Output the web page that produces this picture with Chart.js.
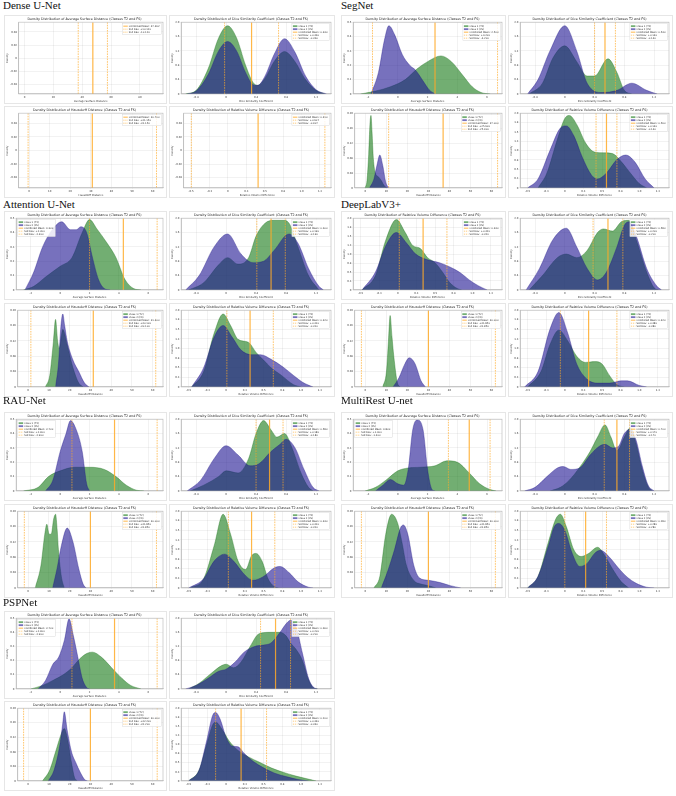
<!DOCTYPE html>
<html>
<head>
<meta charset="utf-8">
<script src="https://cdn.jsdelivr.net/npm/chart.js@4.4.1/dist/chart.umd.min.js"></script>
<style>
  body { margin: 0; background: #fff; width: 676px; height: 796px; position: relative; overflow: hidden; }
  .blk { position: absolute; font-family: "Liberation Serif", "DejaVu Serif", serif; font-size: 11px; line-height: 12px; color: #111; white-space: nowrap; }
  .fig { position: absolute; background: #fff; border: 1px solid #e6e6e6; box-sizing: border-box; }
  .fig canvas { display: block; }
</style>
</head>
<body>
<script>
// models, in reading order of the figure
const MODELS = ['Dense U-Net', 'SegNet', 'Attention U-Net', 'DeepLabV3+', 'RAU-Net', 'MultiRest U-net', 'PSPNet'];
const CLASS_LABELS = ['Class 1 (T2)', 'Class 2 (FS)'];
const METRIC_NAMES = { ASD: 'Average Surface Distance', DSC: 'Dice Similarity Coefficient', HD: 'Hausdorff Distance', RVD: 'Relative Volume Difference' };

// tick labels
const ASD_TICKS = [-2, 0, 2, 4, 6];
const DSC_TICKS = [-0.4, 0, 0.4, 0.8, 1.2];
const HD_TICKS = [0, 10, 20, 30, 40, 50, 60];
const RVD_TICKS = [-0.5, -0.25, 0, 0.25, 0.5, 0.75, 1, 1.25];
const DENSE_ASD_TICKS = [0, 20, 40, 60, 80];
const EMPTY_Y_TICKS = [-0.04, -0.02, 0, 0.02, 0.04];

// Dense U-Net (ASD, HD, RVD have no density curve, only the mean / std lines)
const DENSE_ASD_C1 = [], DENSE_ASD_C2 = [];
const DENSE_DSC_C1 = [[-0.54,0],[-0.4,0.1],[-0.24,0.7],[-0.1,1.56],[0.02,1.9],[0.14,1.56],[0.26,0.8],[0.36,0.32],[0.42,0.24],[0.52,0.44],[0.64,0.9],[0.78,1.18],[0.92,0.9],[1.06,0.4],[1.2,0.1],[1.32,0]];
const DENSE_DSC_C2 = [[-0.52,0],[-0.4,0.08],[-0.24,0.54],[-0.1,1.2],[0.02,1.46],[0.14,1.2],[0.26,0.6],[0.36,0.26],[0.42,0.24],[0.52,0.5],[0.64,1.1],[0.78,1.54],[0.92,1.16],[1.06,0.5],[1.2,0.12],[1.34,0]];
const DENSE_HD_C1 = [], DENSE_HD_C2 = [];
const DENSE_RVD_C1 = [], DENSE_RVD_C2 = [];
const DENSE_MEAN = [47.362, 0.34, 30.7, 0.41];
const DENSE_STD = [10.12, 0.36, 31.15, 0.907];

// SegNet
const SEG_ASD_C1 = [[-2.5,0],[-1.5,0.02],[-0.5,0.05],[0.5,0.1],[1.3,0.175],[2.0,0.225],[2.9,0.265],[3.6,0.225],[4.4,0.125],[5.0,0.05],[5.6,0.01],[6.2,0]];
const SEG_ASD_C2 = [[-1.8,0],[-1.3,0.15],[-0.9,0.375],[-0.6,0.475],[-0.2,0.41],[0.3,0.275],[0.8,0.2],[1.2,0.165],[1.7,0.09],[2.1,0.03],[2.5,0]];
const SEG_DSC_C1 = [[-0.48,0],[-0.3,0.3],[-0.16,1.0],[0,1.34],[0.16,0.9],[0.3,0.5],[0.4,0.5],[0.58,0.98],[0.7,0.6],[0.8,0.1],[0.9,0]];
const SEG_DSC_C2 = [[-0.5,0],[-0.36,0.4],[-0.2,1.2],[0,1.9],[0.16,1.2],[0.3,0.3],[0.5,0.04],[0.7,0.1],[0.9,0.3],[1.1,0.1],[1.24,0]];
const SEG_HD_C1 = [[-0.1,0],[0.8,0.02],[1.6,0.09],[2.2,0.17],[2.7,0.194],[3.2,0.15],[3.8,0.08],[4.8,0.04],[6.2,0.03],[7.6,0.02],[9,0.006],[10.4,0]];
const SEG_HD_C2 = [[2,0],[4.1,0.024],[5.5,0.06],[6.9,0.088],[8.3,0.06],[9.7,0.016],[11.1,0]];
const SEG_RVD_C1 = [[-0.36,0],[-0.24,0.4],[-0.1,1.3],[0,1.86],[0.06,1.94],[0.16,1.7],[0.28,1.2],[0.4,0.96],[0.52,0.94],[0.64,0.92],[0.76,0.7],[0.88,0.4],[1.0,0.12],[1.1,0]];
const SEG_RVD_C2 = [[-0.5,0],[-0.36,0.24],[-0.2,1.0],[-0.06,1.6],[0.02,1.66],[0.12,1.4],[0.24,0.8],[0.36,0.34],[0.44,0.24],[0.56,0.4],[0.7,0.76],[0.82,0.88],[0.94,0.7],[1.08,0.24],[1.2,0]];
const SEG_MEAN = [2.5, 0.54, 37.0, 0.56];
const SEG_STD = [4.2, 0.14, 25.9, 0.14];

// Attention U-Net
const ATT_ASD_C1 = [[-2.5,0],[-1.8,0.025],[-1.0,0.09],[0,0.165],[0.8,0.225],[1.5,0.4],[2.0,0.49],[2.5,0.425],[3.2,0.325],[3.8,0.225],[4.4,0.075],[5.0,0.01],[5.5,0]];
const ATT_ASD_C2 = [[-2.4,0],[-1.8,0.125],[-1.2,0.3],[-0.5,0.425],[0.1,0.475],[0.7,0.42],[1.1,0.42],[1.4,0.44],[1.8,0.4],[2.2,0.225],[2.6,0.075],[3.0,0.01],[3.4,0]];
const ATT_DSC_C1 = [[-0.5,0],[-0.3,0.2],[-0.1,0.7],[0.02,0.9],[0.16,0.72],[0.3,0.9],[0.4,1.5],[0.52,1.86],[0.64,1.94],[0.76,1.94],[0.84,1.86],[0.96,1.2],[1.1,0.4],[1.24,0]];
const ATT_DSC_C2 = [[-0.54,0],[-0.36,0.4],[-0.16,1.2],[0.02,1.56],[0.2,1.0],[0.36,0.76],[0.5,0.8],[0.64,1.1],[0.84,1.56],[0.96,1.3],[1.1,0.6],[1.24,0.1],[1.3,0]];
const ATT_HD_C1 = [[8.3,0],[10.4,0.03],[12.2,0.12],[13.2,0.176],[14.2,0.12],[14.95,0.1],[16.7,0.15],[18.8,0.11],[21.6,0.05],[24.4,0.01],[26.5,0]];
const ATT_HD_C2 = [[13.2,0],[14.6,0.06],[15.8,0.16],[16.7,0.19],[17.6,0.16],[18.8,0.12],[21.6,0.07],[24.4,0.04],[27.2,0.01],[29.3,0]];
const ATT_RVD_C1 = [[-0.46,0],[-0.3,0.4],[-0.16,1.4],[-0.04,1.9],[0.06,1.6],[0.16,1.24],[0.3,1.16],[0.4,0.9],[0.5,0.7],[0.6,0.5],[0.74,0.3],[0.9,0.06],[1.0,0]];
const ATT_RVD_C2 = [[-0.46,0],[-0.3,0.5],[-0.16,1.3],[-0.04,1.6],[0.08,1.3],[0.2,0.96],[0.34,0.84],[0.46,0.84],[0.6,0.72],[0.76,0.52],[0.9,0.3],[1.04,0.1],[1.16,0]];
const ATT_MEAN = [4.3, 0.6, 31.4, 0.32];
const ATT_STD = [2.3, 0.19, 30.1, 0.31];

// DeepLabV3+ (first panel is a relative volume difference plot too)
const DLV_RVDA_C1 = [[-0.48,0],[-0.3,0.4],[-0.16,1.4],[-0.02,1.96],[0.1,1.6],[0.2,1.24],[0.3,1.16],[0.4,0.9],[0.5,0.76],[0.6,0.5],[0.7,0.2],[0.8,0.04],[0.86,0]];
const DLV_RVDA_C2 = [[-0.48,0],[-0.3,0.5],[-0.16,1.24],[-0.02,1.6],[0.12,1.3],[0.24,1.0],[0.4,0.84],[0.56,0.76],[0.7,0.64],[0.84,0.48],[0.96,0.28],[1.08,0.12],[1.2,0]];
const DLV_DSC_C1 = [[-0.48,0],[-0.3,0.4],[-0.1,0.9],[0.02,1.0],[0.16,0.9],[0.3,1.1],[0.44,1.6],[0.52,1.7],[0.64,1.64],[0.76,1.9],[0.86,1.94],[0.96,1.4],[1.1,0.5],[1.2,0.06],[1.26,0]];
const DLV_DSC_C2 = [[-0.52,0],[-0.34,0.6],[-0.16,1.4],[0.02,1.72],[0.16,1.2],[0.3,0.6],[0.44,0.28],[0.56,0.5],[0.7,1.2],[0.8,1.8],[0.86,1.9],[0.96,1.5],[1.1,0.6],[1.24,0.1],[1.3,0]];
const DLV_HD_C1 = [[8.3,0],[10.05,0.04],[11.0,0.12],[11.8,0.186],[12.7,0.13],[13.55,0.08],[15.3,0.01],[16.7,0]];
const DLV_HD_C2 = [[13.2,0],[16,0.024],[18.8,0.06],[20.9,0.076],[23.7,0.06],[26.5,0.016],[28.6,0]];
const DLV_RVD_C1 = [[-0.5,0],[-0.32,0.4],[-0.2,1.1],[-0.08,1.48],[0.04,1.2],[0.16,0.8],[0.28,0.64],[0.4,0.66],[0.5,0.6],[0.6,0.3],[0.7,0.06],[0.8,0]];
const DLV_RVD_C2 = [[-0.54,0],[-0.36,0.4],[-0.2,1.5],[-0.08,1.94],[0.04,1.4],[0.16,0.6],[0.3,0.2],[0.44,0.1],[0.6,0.1],[0.76,0.16],[0.84,0.16],[1.0,0.04],[1.1,0]];
const DLV_MEAN = [0.34, 0.58, 30.0, 0.32];
const DLV_STD = [0.32, 0.2, 31.85, 0.38];

// RAU-Net
const RAU_ASD_C1 = [[-2.5,0],[-1.5,0.025],[-0.8,0.1],[0,0.14],[1,0.165],[2,0.165],[3,0.15],[3.8,0.1],[4.5,0.04],[5.2,0.005],[5.7,0]];
const RAU_ASD_C2 = [[-1,0],[-0.5,0.075],[0,0.275],[0.4,0.4],[0.7,0.49],[1.1,0.425],[1.5,0.275],[1.8,0.05],[2.0,0]];
const RAU_DSC_C1 = [[-0.48,0],[-0.3,0.16],[-0.1,0.4],[0,0.56],[0.16,0.5],[0.3,0.9],[0.4,1.6],[0.5,1.96],[0.6,1.7],[0.68,1.5],[0.78,1.6],[0.88,1.2],[1.0,0.5],[1.1,0.1],[1.16,0]];
const RAU_DSC_C2 = [[-0.52,0],[-0.34,0.3],[-0.16,0.9],[0,1.26],[0.16,1.0],[0.32,0.7],[0.44,0.76],[0.6,1.1],[0.72,1.3],[0.8,1.44],[0.92,1.2],[1.04,0.6],[1.16,0.1],[1.24,0]];
const RAU_HD_C1 = [[3.4,0],[6.2,0.06],[8.0,0.14],[9,0.166],[10.1,0.14],[11.1,0.14],[12.3,0.18],[13.2,0.192],[14.0,0.15],[14.6,0.1],[16,0.03],[17.4,0]];
const RAU_HD_C2 = [[11.8,0],[13.9,0.05],[16,0.11],[18.8,0.156],[21.6,0.12],[24.4,0.05],[26.5,0.01],[27.9,0]];
const RAU_RVD_C1 = [[-0.48,0],[-0.3,0.24],[-0.16,1.1],[-0.04,1.92],[0.06,1.4],[0.16,0.7],[0.26,0.48],[0.34,0.84],[0.4,0.9],[0.48,0.7],[0.56,0.24],[0.64,0.04],[0.7,0]];
const RAU_RVD_C2 = [[-0.5,0],[-0.3,0.24],[-0.16,0.7],[-0.02,0.88],[0.1,0.7],[0.24,0.36],[0.36,0.2],[0.5,0.3],[0.64,0.52],[0.72,0.56],[0.84,0.4],[0.96,0.16],[1.1,0.02],[1.16,0]];
const RAU_MEAN = [3.7, 0.58, 30.0, 0.34];
const RAU_STD = [2.9, 0.18, 31.85, 0.31];

// MultiRest U-net
const MRU_ASD_C1 = [[-2.2,0],[-1.5,0.025],[-0.8,0.075],[0,0.14],[0.7,0.16],[1.5,0.165],[2.5,0.175],[3.3,0.21],[4.0,0.2],[4.8,0.125],[5.5,0.05],[6.2,0.01],[6.6,0]];
const MRU_ASD_C2 = [[-1.5,0],[-1,0.04],[-0.5,0.08],[0,0.05],[0.4,0.04],[0.7,0.15],[1.0,0.425],[1.3,0.495],[1.7,0.425],[2.0,0.15],[2.3,0.01],[2.5,0]];
const MRU_DSC_C1 = [[-0.2,0],[-0.06,0.1],[0.06,0.3],[0.2,0.66],[0.34,1.1],[0.44,1.5],[0.54,1.84],[0.62,1.5],[0.7,1.12],[0.8,1.5],[0.88,1.76],[0.96,1.3],[1.04,0.6],[1.12,0.12],[1.18,0]];
const MRU_DSC_C2 = [[-0.54,0],[-0.4,0.1],[-0.24,0.4],[-0.1,0.64],[-0.02,0.68],[0.08,0.6],[0.2,0.64],[0.34,1.0],[0.46,1.24],[0.54,1.3],[0.64,1.2],[0.72,1.24],[0.8,1.6],[0.88,1.72],[0.96,1.4],[1.04,0.7],[1.12,0.16],[1.2,0]];
const MRU_HD_C1 = [[4.1,0],[6.9,0.03],[9.7,0.14],[12.5,0.192],[15.3,0.17],[17.4,0.12],[19.5,0.06],[23,0.02],[26.5,0.01],[30,0.006],[33.5,0]];
const MRU_HD_C2 = [[7.6,0],[10.4,0.04],[13.9,0.1],[16.7,0.156],[18.1,0.164],[20.2,0.14],[23,0.06],[25.8,0.026],[30,0.02],[35.6,0.014],[40.5,0.006],[45.4,0]];
const MRU_RVD_C1 = [[-0.5,0],[-0.36,0.3],[-0.22,1.2],[-0.12,1.8],[-0.06,1.92],[0.02,1.6],[0.12,1.0],[0.22,0.82],[0.32,0.9],[0.44,1.06],[0.52,0.9],[0.64,0.5],[0.76,0.16],[0.86,0]];
const MRU_RVD_C2 = [[-0.5,0],[-0.36,0.3],[-0.22,1.1],[-0.14,1.6],[-0.08,1.68],[0,1.5],[0.1,0.9],[0.2,0.56],[0.3,0.64],[0.4,0.9],[0.48,0.98],[0.6,0.8],[0.72,0.52],[0.84,0.28],[0.96,0.12],[1.1,0.02],[1.2,0]];
const MRU_MEAN = [4.8, 0.7, 30.0, 0.28];
const MRU_STD = [1.4, 0.17, 31.85, 0.28];

// PSPNet
const PSP_ASD_C1 = [[-2,0],[-1.2,0.025],[-0.5,0.06],[0.2,0.1],[0.8,0.15],[1.3,0.21],[1.8,0.25],[2.2,0.26],[2.8,0.225],[3.5,0.15],[4.2,0.075],[4.8,0.025],[5.5,0]];
const PSP_ASD_C2 = [[-1.5,0],[-1,0.06],[-0.5,0.175],[-0.1,0.225],[0.3,0.35],[0.6,0.495],[0.9,0.375],[1.2,0.225],[1.5,0.075],[1.8,0.01],[2.0,0]];
const PSP_DSC_C1 = [[-0.5,0],[-0.36,0.16],[-0.2,0.44],[-0.06,0.66],[0,0.7],[0.1,0.6],[0.2,0.76],[0.32,1.2],[0.44,1.56],[0.6,1.6],[0.72,1.6],[0.8,1.5],[0.86,1.3],[0.94,1.1],[1.02,0.8],[1.1,0.26],[1.16,0.04],[1.22,0]];
const PSP_DSC_C2 = [[-0.54,0],[-0.4,0.1],[-0.24,0.3],[-0.1,0.5],[0,0.56],[0.12,0.76],[0.24,1.04],[0.38,1.2],[0.5,1.24],[0.6,1.3],[0.72,1.6],[0.8,1.84],[0.86,1.94],[0.94,1.7],[1.02,1.0],[1.1,0.3],[1.16,0.06],[1.22,0]];
const PSP_HD_C1 = [[6.9,0],[10.4,0.03],[13.2,0.08],[16,0.13],[17.4,0.144],[18.8,0.12],[20.9,0.05],[22.3,0.01],[23.7,0]];
const PSP_HD_C2 = [[9.7,0],[12.5,0.03],[15.3,0.1],[16.7,0.16],[17.4,0.19],[18.8,0.14],[20.9,0.08],[23,0.05],[25.1,0.024],[27.2,0.004],[28.6,0]];
const PSP_RVD_C1 = [[-0.5,0],[-0.36,0.3],[-0.26,1.0],[-0.18,1.54],[-0.14,1.62],[-0.06,1.44],[0.04,1.1],[0.16,0.84],[0.3,0.66],[0.44,0.52],[0.6,0.36],[0.76,0.24],[0.92,0.14],[1.08,0.06],[1.2,0]];
const PSP_RVD_C2 = [[-0.5,0],[-0.36,0.3],[-0.26,1.1],[-0.18,1.8],[-0.14,1.88],[-0.08,1.7],[0,1.2],[0.08,0.96],[0.16,0.94],[0.24,0.76],[0.36,0.54],[0.5,0.36],[0.64,0.22],[0.8,0.12],[0.96,0.04],[1.1,0]];
const PSP_MEAN = [3.7, 0.66, 30.0, 0.2];
const PSP_STD = [2.9, 0.2, 32.2, 0.34];

// ---------------------------------------------------------------
const C1_FILL = 'rgba(20,120,20,0.6)', C1_LINE = 'rgba(20,110,20,0.7)';
const C2_FILL = 'rgba(28,18,145,0.6)', C2_LINE = 'rgba(28,18,135,0.7)';
const ORANGE = 'rgba(255,170,40,0.85)';

// axis range per metric: [xmin, xmax, ymax, ystep]
const AXES = { ASD: [-3, 7, 0.5, 0.1], DSC: [-0.6, 1.4, 2, 0.4], HD: [-5, 65, 0.2, 0.04], RVD: [-0.6, 1.4, 2, 0.25] };
const XTICKS = { ASD: ASD_TICKS, DSC: DSC_TICKS, HD: HD_TICKS, RVD: RVD_TICKS };

const BLOCKS = [
  { metrics: ['ASD','DSC','HD','RVD'], c1: [DENSE_ASD_C1, DENSE_DSC_C1, DENSE_HD_C1, DENSE_RVD_C1], c2: [DENSE_ASD_C2, DENSE_DSC_C2, DENSE_HD_C2, DENSE_RVD_C2], mean: DENSE_MEAN, std: DENSE_STD },
  { metrics: ['ASD','DSC','HD','RVD'], c1: [SEG_ASD_C1, SEG_DSC_C1, SEG_HD_C1, SEG_RVD_C1], c2: [SEG_ASD_C2, SEG_DSC_C2, SEG_HD_C2, SEG_RVD_C2], mean: SEG_MEAN, std: SEG_STD },
  { metrics: ['ASD','DSC','HD','RVD'], c1: [ATT_ASD_C1, ATT_DSC_C1, ATT_HD_C1, ATT_RVD_C1], c2: [ATT_ASD_C2, ATT_DSC_C2, ATT_HD_C2, ATT_RVD_C2], mean: ATT_MEAN, std: ATT_STD },
  { metrics: ['RVD','DSC','HD','RVD'], c1: [DLV_RVDA_C1, DLV_DSC_C1, DLV_HD_C1, DLV_RVD_C1], c2: [DLV_RVDA_C2, DLV_DSC_C2, DLV_HD_C2, DLV_RVD_C2], mean: DLV_MEAN, std: DLV_STD },
  { metrics: ['ASD','DSC','HD','RVD'], c1: [RAU_ASD_C1, RAU_DSC_C1, RAU_HD_C1, RAU_RVD_C1], c2: [RAU_ASD_C2, RAU_DSC_C2, RAU_HD_C2, RAU_RVD_C2], mean: RAU_MEAN, std: RAU_STD },
  { metrics: ['ASD','DSC','HD','RVD'], c1: [MRU_ASD_C1, MRU_DSC_C1, MRU_HD_C1, MRU_RVD_C1], c2: [MRU_ASD_C2, MRU_DSC_C2, MRU_HD_C2, MRU_RVD_C2], mean: MRU_MEAN, std: MRU_STD },
  { metrics: ['ASD','DSC','HD','RVD'], c1: [PSP_ASD_C1, PSP_DSC_C1, PSP_HD_C1, PSP_RVD_C1], c2: [PSP_ASD_C2, PSP_DSC_C2, PSP_HD_C2, PSP_RVD_C2], mean: PSP_MEAN, std: PSP_STD }
];

// page layout: column x / widths, and per block-row [titleTop, topY, topH, botY, botH]
const COLS = [[3, 4, 163, 169, 166], [341, 341, 165, 508, 165]];
const ROWS = [[-1, 15, 89, 106, 92], [198, 211, 89, 303, 94], [394, 412, 89, 504, 94], [596, 611, 88, 701, 90]];

Chart.defaults.font.family = '"DejaVu Sans", sans-serif';
Chart.defaults.color = '#333';

// mean / std lines, axes frame and the small legend box
Chart.register({
  id: 'extras',
  afterDatasetsDraw(chart, args, o) {
    const ctx = chart.ctx, a = chart.chartArea, xs = chart.scales.x;
    ctx.save();
    ctx.beginPath(); ctx.rect(a.left, a.top, a.right - a.left, a.bottom - a.top); ctx.clip();
    ctx.strokeStyle = ORANGE;
    ctx.lineWidth = 0.8; ctx.setLineDash([1.6, 1]);
    [o.mean - o.std, o.mean + o.std].forEach(v => {
      const px = xs.getPixelForValue(v);
      ctx.beginPath(); ctx.moveTo(px, a.top); ctx.lineTo(px, a.bottom); ctx.stroke();
    });
    ctx.setLineDash([]); ctx.lineWidth = 1.2;
    const pm = xs.getPixelForValue(o.mean);
    ctx.beginPath(); ctx.moveTo(pm, a.top); ctx.lineTo(pm, a.bottom); ctx.stroke();
    ctx.restore();

    ctx.save();
    ctx.strokeStyle = '#b5b5b5'; ctx.lineWidth = 0.6;
    ctx.strokeRect(a.left, a.top, a.right - a.left, a.bottom - a.top);

    const entries = [];
    if (!o.empty) {
      entries.push({ kind: 'fill', color: C1_FILL, text: CLASS_LABELS[0] });
      entries.push({ kind: 'fill', color: C2_FILL, text: CLASS_LABELS[1] });
    }
    entries.push({ kind: 'mean', text: 'Combined Mean: ' + o.mean.toFixed(3) });
    entries.push({ kind: 'dash', text: 'Std Dev: +' + o.std.toFixed(3) });
    entries.push({ kind: 'dash', text: 'Std Dev: -' + o.std.toFixed(3) });

    const fs = 2.5, lh = 3;
    ctx.font = fs + 'px "DejaVu Sans"';
    const w = Math.max(...entries.map(e => ctx.measureText(e.text).width)) + 8.5;
    const h = entries.length * lh + 2;
    const x0 = o.side === 'left' ? a.left + 1.5 : a.right - 1.5 - w;
    const y0 = a.top + 1.5;
    ctx.fillStyle = 'rgba(255,255,255,0.85)';
    ctx.fillRect(x0, y0, w, h);
    ctx.strokeStyle = '#d0d0d0'; ctx.lineWidth = 0.4;
    ctx.strokeRect(x0, y0, w, h);
    ctx.textBaseline = 'middle';
    entries.forEach((e, i) => {
      const cy = y0 + 1 + lh * i + lh / 2;
      if (e.kind === 'fill') {
        ctx.fillStyle = e.color; ctx.fillRect(x0 + 1, cy - 0.9, 4.5, 1.8);
      } else {
        ctx.strokeStyle = ORANGE; ctx.lineWidth = e.kind === 'mean' ? 1 : 0.7;
        ctx.setLineDash(e.kind === 'dash' ? [1.2, 0.8] : []);
        ctx.beginPath(); ctx.moveTo(x0 + 1, cy); ctx.lineTo(x0 + 5.5, cy); ctx.stroke();
        ctx.setLineDash([]);
      }
      ctx.fillStyle = '#333';
      ctx.fillText(e.text, x0 + 6.5, cy);
    });
    ctx.restore();
  }
});

function makeChart(left, top, w, h, metric, c1, c2, mean, std, side, special) {
  const div = document.createElement('div');
  div.className = 'fig';
  div.style.left = left + 'px'; div.style.top = top + 'px';
  div.style.width = w + 'px'; div.style.height = h + 'px';
  const cv = document.createElement('canvas');
  cv.width = w - 2; cv.height = h - 2;
  div.appendChild(cv);
  document.body.appendChild(div);

  const empty = c1.length === 0;
  let [xmin, xmax, ymax, ystep] = AXES[metric];
  let xt = XTICKS[metric];
  if (special) { xmin = -4; xmax = 96; xt = DENSE_ASD_TICKS; }

  const datasets = empty ? [] : [
    { label: CLASS_LABELS[0], data: c1.map(p => ({ x: p[0], y: p[1] })), backgroundColor: C1_FILL, borderColor: C1_LINE,
      borderWidth: 0.5, fill: 'origin', pointRadius: 0, cubicInterpolationMode: 'monotone', order: 2 },
    { label: CLASS_LABELS[1], data: c2.map(p => ({ x: p[0], y: p[1] })), backgroundColor: C2_FILL, borderColor: C2_LINE,
      borderWidth: 0.5, fill: 'origin', pointRadius: 0, cubicInterpolationMode: 'monotone', order: 1 }
  ];

  const grid = { color: 'rgba(0,0,0,0.1)', lineWidth: 0.5, tickLength: 1 };
  const tickFont = { size: 2.6 };
  const yScale = empty
    ? { min: -0.055, max: 0.055, afterBuildTicks: s => { s.ticks = EMPTY_Y_TICKS.map(v => ({ value: v })); } }
    : { min: 0, max: ymax, ticks: { stepSize: ystep } };

  new Chart(cv, {
    type: 'line',
    data: { datasets },
    options: {
      responsive: false, animation: false, devicePixelRatio: 1, events: [],
      layout: { padding: { left: 1, right: 3, top: 0, bottom: 0.5 } },
      plugins: {
        legend: { display: false }, tooltip: { enabled: false },
        title: { display: true, text: 'Density Distribution of ' + METRIC_NAMES[metric] + ' (Classes T2 and FS)',
                 font: { size: 3.3, weight: 'normal' }, padding: { top: 1, bottom: 1.2 }, color: '#222' },
        extras: { mean, std, side, empty }
      },
      scales: {
        x: { type: 'linear', min: xmin, max: xmax,
             afterBuildTicks: s => { s.ticks = xt.map(v => ({ value: v })); },
             ticks: { font: tickFont, padding: 0.5, maxRotation: 0, autoSkip: false },
             grid, border: { color: '#b5b5b5', width: 0.6 },
             title: { display: true, text: METRIC_NAMES[metric], font: tickFont, padding: { top: 0.3, bottom: 0 } } },
        y: Object.assign(yScale, {
             ticks: Object.assign({ font: tickFont, padding: 0.8 }, yScale.ticks || {}),
             grid, border: { color: '#b5b5b5', width: 0.6 },
             title: { display: true, text: 'Density', font: tickFont, padding: { top: 0, bottom: 0.3 } } })
      }
    }
  });
}

BLOCKS.forEach((b, mi) => {
  const col = COLS[mi % 2], row = ROWS[Math.floor(mi / 2)];
  const t = document.createElement('div');
  t.className = 'blk';
  t.style.left = col[0] + 'px'; t.style.top = row[0] + 'px';
  t.textContent = MODELS[mi];
  document.body.appendChild(t);

  for (let k = 0; k < 4; k++) {
    const left = k % 2 === 0 ? col[1] : col[3];
    const w = k % 2 === 0 ? col[2] : col[4];
    const top = k < 2 ? row[1] : row[3];
    const h = k < 2 ? row[2] : row[4];
    const side = (k === 0 && mi >= 2 && mi !== 3) ? 'left' : 'right';
    makeChart(left, top, w, h, b.metrics[k], b.c1[k], b.c2[k], b.mean[k], b.std[k], side, mi === 0 && k === 0);
  }
});
</script>
</body>
</html>
